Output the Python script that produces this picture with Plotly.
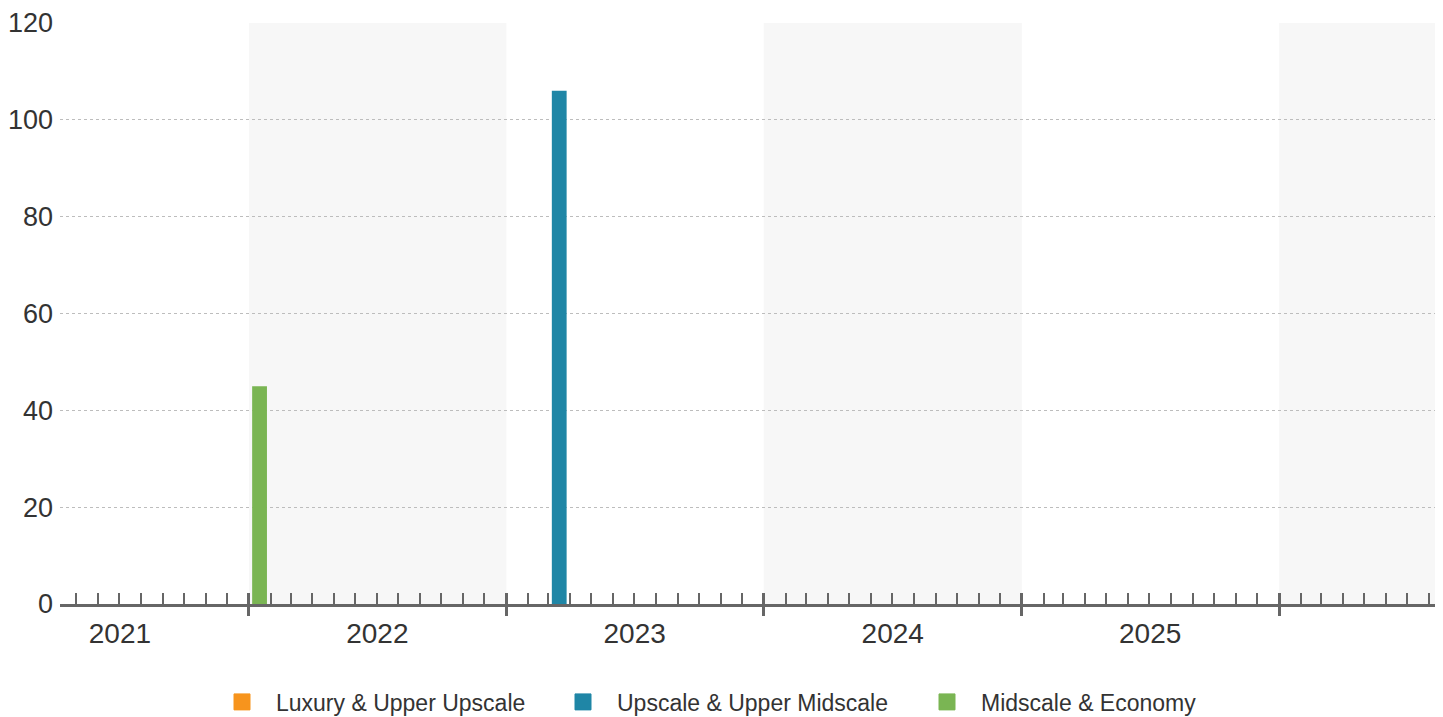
import plotly.graph_objects as go

# Series: hotel rooms opening per month, by chain scale segment
segments = ["Luxury & Upper Upscale", "Upscale & Upper Midscale", "Midscale & Economy"]
segment_colors = ["#f7941d", "#1f86a6", "#7ab553"]

luxury_dates = []
luxury_rooms = []
upscale_dates = ["2023-03-17"]
upscale_rooms = [106]
midscale_dates = ["2022-01-16"]
midscale_rooms = [45]

series_dates = [luxury_dates, upscale_dates, midscale_dates]
series_rooms = [luxury_rooms, upscale_rooms, midscale_rooms]

years = [2021, 2022, 2023, 2024, 2025]
y_ticks = [0, 20, 40, 60, 80, 100, 120]

x_range = ["2021-04-08", "2026-08-10"]
FONT = "Liberation Sans, Arial, sans-serif"
AXIS_GREY = "#666666"
PAGE_W, PAGE_H = 1443, 717

# one legend box per segment, laid out left to right along the bottom
legend_ids = ["legend", "legend2", "legend3"]
legend_left_px = [208, 549, 913]

fig = go.Figure()

for name, color, dates, rooms, lg in zip(segments, segment_colors, series_dates,
                                          series_rooms, legend_ids):
    fig.add_trace(go.Bar(
        x=dates, y=rooms, name=name, marker_color=color,
        marker_line_width=0, width=21 * 86400000,
        legendgroup=name, showlegend=False,
    ))
    # legend swatch (larger square than the default bar swatch)
    fig.add_trace(go.Scatter(
        x=[None], y=[None], name=name, mode="markers",
        marker=dict(symbol="square", size=18, color=color,
                    line=dict(width=1, color=color)),
        legendgroup=name, showlegend=True, legend=lg,
    ))

# alternating shaded year bands
band_years = [2022, 2024, 2026]
for yr in band_years:
    fig.add_shape(
        type="rect", xref="x", yref="paper",
        x0=f"{yr}-01-01", x1=min(f"{yr + 1}-01-01", x_range[1]),
        y0=0, y1=1, fillcolor="#f7f7f7", line_width=0, layer="below",
    )

legend_style = dict(
    orientation="h", xref="container", yref="container",
    xanchor="left", y=0.021, yanchor="middle",
    font=dict(size=23, color="#333333"), itemwidth=58,
    bgcolor="rgba(0,0,0,0)",
)
legends = {lg: dict(legend_style, x=px / PAGE_W) for lg, px in zip(legend_ids, legend_left_px)}

fig.update_layout(
    width=PAGE_W, height=PAGE_H,
    margin=dict(l=60, r=8, t=21, b=113),
    paper_bgcolor="white", plot_bgcolor="white",
    font=dict(family=FONT, color="#333333"),
    barmode="overlay",
    showlegend=True,
    **legends,
    yaxis=dict(
        range=[0, 120], tickvals=y_ticks, showgrid=True,
        gridcolor="#bdbdbd", griddash="dot", gridwidth=1,
        zeroline=False, showline=False, ticks="",
        tickfont=dict(size=27, color="#333333"), ticklabelstandoff=6,
        fixedrange=True,
    ),
    # main axis: line, inside year ticks and monthly minor ticks
    xaxis=dict(
        type="date", range=x_range, showgrid=False, zeroline=False,
        showline=True, linecolor=AXIS_GREY, linewidth=3,
        tick0="2021-01-01", dtick="M12", ticks="inside", ticklen=11,
        tickwidth=3, tickcolor=AXIS_GREY, showticklabels=False,
        minor=dict(dtick="M1", tick0="2021-01-01", ticks="inside",
                   ticklen=11, tickwidth=1.5, tickcolor=AXIS_GREY,
                   showgrid=False),
    ),
    # year ticks continuing below the axis line
    xaxis2=dict(
        type="date", range=x_range, overlaying="x", anchor="y", side="bottom",
        showgrid=False, zeroline=False, showline=False,
        tick0="2021-01-01", dtick="M12", ticks="outside", ticklen=11,
        tickwidth=3, tickcolor=AXIS_GREY, showticklabels=False,
    ),
    # year labels centred in each year
    xaxis3=dict(
        type="date", range=x_range, overlaying="x", anchor="y", side="bottom",
        showgrid=False, zeroline=False, showline=False, ticks="",
        tickvals=[f"{y}-07-02" for y in years], ticktext=[str(y) for y in years],
        tickfont=dict(size=28, color="#333333"), ticklabelstandoff=10,
    ),
)

# attach a dummy trace to each overlay axis so they render
fig.add_trace(go.Scatter(x=[None], y=[None], xaxis="x2", showlegend=False, hoverinfo="skip"))
fig.add_trace(go.Scatter(x=[None], y=[None], xaxis="x3", showlegend=False, hoverinfo="skip"))

fig.write_html("out.html")
